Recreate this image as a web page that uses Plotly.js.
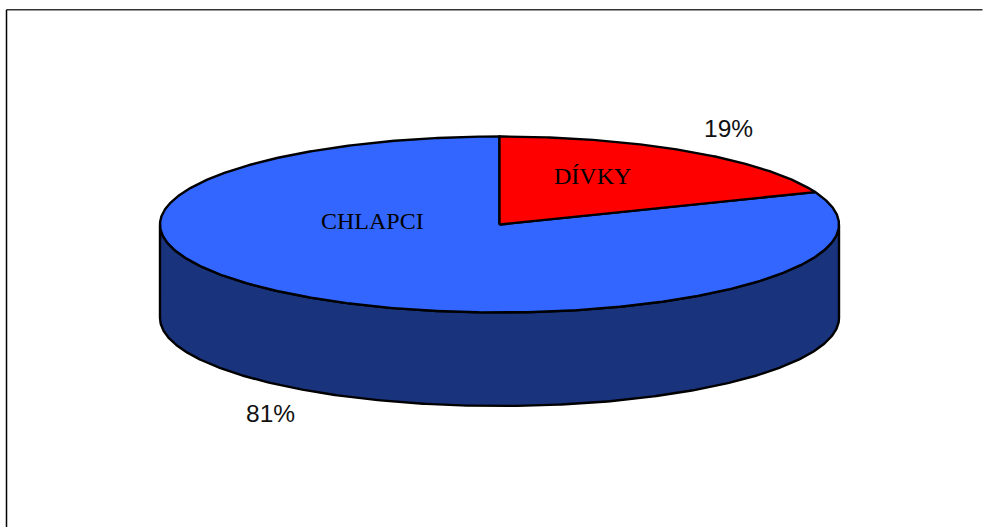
<!DOCTYPE html>
<html>
<head>
<meta charset="utf-8">
<script src="https://cdn.plot.ly/plotly-3.0.1.min.js"></script>
<style>html,body{margin:0;padding:0;background:#fff;overflow:hidden}#chart{width:983px;height:527px}</style>
</head>
<body>
<div id="chart"></div>
<script>
// Pupils by gender
const categories = ['DÍVKY', 'CHLAPCI'];
const shares = [19, 81];

const sliceColors = ['#ff0000', '#3366ff'];
const wallColor = '#19337d';

// Tilted disc geometry, in plot units (the axes map 1:1 to the page)
const cx = 499.5, cy = 224.5, rx = 339.5, ry = 88, depth = 93.5;
const rimPoint = (deg, dy = 0) => {
  const t = deg * Math.PI / 180;
  return [cx + rx * Math.sin(t), cy + dy - ry * Math.cos(t)];
};
const arc = (from, to, dy = 0) => {
  const n = Math.max(2, Math.ceil(Math.abs(to - from) * 2));
  const pts = [];
  for (let i = 0; i <= n; i++) pts.push(rimPoint(from + (to - from) * i / n, dy));
  return pts;
};
const polygon = (pts, fill) => ({
  type: 'scatter', mode: 'lines', hoverinfo: 'skip', showlegend: false,
  x: pts.map(p => p[0]), y: pts.map(p => p[1]),
  fill: 'toself', fillcolor: fill,
  line: {color: '#000', width: 2.4}
});

// Visible wall: the front half of the rim, extruded downwards
const wall = [...arc(90, 270), ...arc(270, 90, depth)];
const traces = [polygon([...wall, wall[0]], wallColor)];

// Top face, one wedge per category, clockwise from twelve o'clock
const total = shares.reduce((a, b) => a + b, 0);
const wedges = [];
let start = 0;
shares.forEach((v, i) => {
  const end = start + v / total * 360;
  wedges.push(polygon([[cx, cy], ...arc(start, end), [cx, cy]], sliceColors[i]));
  start = end;
});
traces.push(wedges[1], wedges[0]);

const serif = {family: 'Liberation Serif, serif', size: 24, color: '#000'};
const sans = {family: 'Liberation Sans, sans-serif', size: 24.5, color: '#111'};
const label = (text, x, y, font) => ({
  text, x, y, xref: 'x', yref: 'y', showarrow: false,
  xanchor: 'center', yanchor: 'middle', font
});

const frame = (x0, y0, x1, y1, color) => ({
  type: 'line', xref: 'x', yref: 'y', x0, y0, x1, y1,
  line: {color, width: 1.5}
});

Plotly.newPlot('chart', traces, {
  width: 983, height: 527,
  margin: {l: 0, r: 0, t: 0, b: 0},
  paper_bgcolor: '#fff', plot_bgcolor: '#fff',
  showlegend: false,
  xaxis: {range: [0, 983], visible: false, fixedrange: true},
  yaxis: {range: [527, 0], visible: false, fixedrange: true},
  shapes: [
    frame(6.5, 9.7, 982.5, 9.7, '#333'),
    frame(6.5, 9.7, 6.5, 527, '#000')
  ],
  annotations: [
    label(categories[0], 592.5, 175.5, serif),
    label(categories[1], 372, 220.5, serif),
    label(shares[0] + '%', 728.5, 128, sans),
    label(shares[1] + '%', 270.5, 413, sans)
  ]
}, {displayModeBar: false, staticPlot: true});
</script>
</body>
</html>
